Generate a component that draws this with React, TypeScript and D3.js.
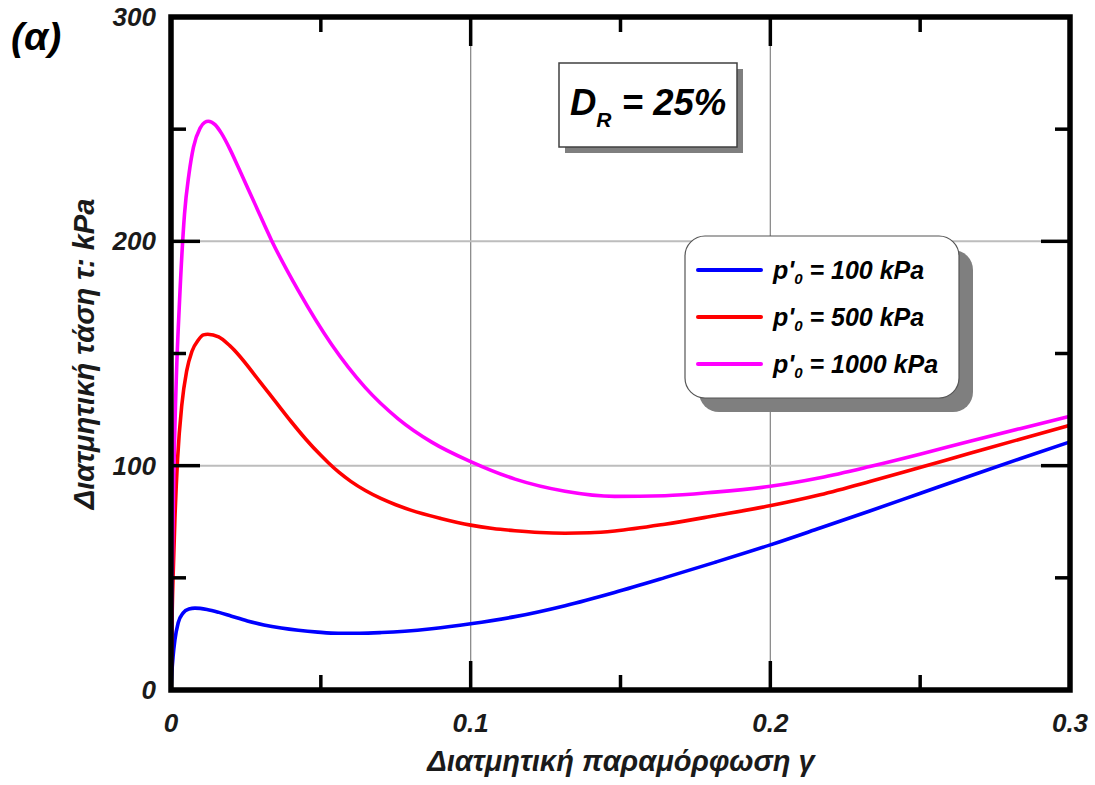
import React from 'react';
import * as d3 from 'd3';

const WIDTH = 1095;
const HEIGHT = 785;

// Axis domains and ticks
const xDomain = [0, 0.3];
const yDomain = [0, 300];
const xMajorTicks = [0, 0.1, 0.2, 0.3];
const xTickLabels = ['0', '0.1', '0.2', '0.3'];
const xMinorTicks = [0.05, 0.15, 0.25];
const yMajorTicks = [0, 100, 200, 300];
const yTickLabels = ['0', '100', '200', '300'];
const yMinorTicks = [50, 150, 250];
const xGridValues = [0.1, 0.2];
const yGridValues = [100, 200];

// Shear strain γ and shear stress τ (kPa) for each confining pressure
const strain100 = [0, 0.0003, 0.0007, 0.0013, 0.0024, 0.004, 0.006, 0.008, 0.012, 0.016, 0.0202, 0.0255, 0.031, 0.0368, 0.0425, 0.049, 0.0558, 0.063, 0.0703, 0.078, 0.087, 0.1, 0.1148, 0.1315, 0.148, 0.1648, 0.1815, 0.2, 0.2166, 0.2332, 0.2499, 0.2666, 0.2833, 0.3];
const stress100 = [0, 8, 15, 22.3, 30, 34.3, 36.1, 36.5, 35.9, 34.6, 32.9, 30.8, 29.0, 27.6, 26.6, 25.8, 25.3, 25.3, 25.6, 26.2, 27.3, 29.5, 32.7, 37.6, 43.5, 50.1, 56.9, 64.7, 72.2, 79.8, 87.6, 95.4, 103.1, 110.6];

const strain500 = [0, 0.0004, 0.0008, 0.0013, 0.0022, 0.0036, 0.0052, 0.007, 0.0091, 0.0108, 0.01225, 0.0159, 0.01969, 0.0297, 0.035, 0.04, 0.045, 0.05, 0.0525, 0.056, 0.06, 0.065, 0.07, 0.075, 0.08, 0.09, 0.1, 0.1074, 0.1148, 0.1231, 0.1315, 0.1398, 0.1481, 0.1648, 0.1815, 0.2002, 0.2166, 0.2332, 0.2499, 0.2666, 0.2833, 0.3];
const stress500 = [0, 35, 55, 76, 103, 127, 142, 151, 156, 158.3, 158.6, 157.4, 153.4, 137.4, 128.3, 119.8, 111.8, 104.6, 101.3, 97.1, 93.0, 88.8, 85.4, 82.6, 80.2, 76.5, 73.5, 72.0, 71.0, 70.2, 69.9, 70.1, 70.9, 73.9, 77.7, 82.2, 87.0, 92.9, 99.2, 105.5, 111.8, 118.0];

const strain1000 = [0, 0.0005, 0.001, 0.0018, 0.0028, 0.0045, 0.006, 0.0075, 0.0097, 0.0112, 0.01245, 0.0147, 0.0169, 0.0197, 0.0225, 0.028, 0.0336, 0.0425, 0.0536, 0.0647, 0.0758, 0.087, 0.1, 0.1148, 0.1315, 0.148, 0.1648, 0.1815, 0.2, 0.2166, 0.2332, 0.2499, 0.2666, 0.2833, 0.3];
const stress1000 = [0, 60, 100, 140, 172, 212, 230, 242, 250.5, 253, 253.5, 252.0, 248.0, 241.0, 232.9, 216.7, 200.3, 178.0, 154.0, 135.0, 120.9, 110.5, 101.8, 94.0, 88.6, 86.3, 86.6, 88.2, 90.8, 94.6, 99.6, 105.1, 110.9, 116.5, 122];

const pressureLabels = ['100', '500', '1000'];
const seriesColors = ['#0000ff', '#ff0000', '#ff00ff'];
const seriesStrains = [strain100, strain500, strain1000];
const seriesStresses = [stress100, stress500, stress1000];

const FONT = '"Liberation Sans", Arial, sans-serif';

export default function App() {
  const x = d3.scaleLinear().domain(xDomain).range([171, 1070]);
  const y = d3.scaleLinear().domain(yDomain).range([690, 17]);

  const line = d3
    .line<[number, number]>()
    .x((d) => x(d[0]))
    .y((d) => y(d[1]))
    .curve(d3.curveMonotoneX);

  const [x0, x1] = x.range();
  const [y0, y1] = y.range();
  const majorLen = 29;
  const minorLen = 15;
  const tickW = 3.5;

  const textStyle = {
    fontFamily: FONT,
    fontWeight: 'bold' as const,
    fontStyle: 'italic' as const,
  };

  // Legend geometry
  const lg = { x: 685, y: 236, w: 274, h: 162, r: 20, shadow: 14 };
  const legendRows = [270, 317, 364];

  return (
    <svg
      width={WIDTH}
      height={HEIGHT}
      style={{ position: 'absolute', left: 0, top: 0, background: '#fff' }}
    >
      <rect x={0} y={0} width={WIDTH} height={HEIGHT} fill="#fff" />

      {/* Grid */}
      {xGridValues.map((v) => (
        <line key={'gx' + v} x1={x(v)} x2={x(v)} y1={y1} y2={y0} stroke="#8c8c8c" strokeWidth={1.3} />
      ))}
      {yGridValues.map((v) => (
        <line key={'gy' + v} x1={x0} x2={x1} y1={y(v)} y2={y(v)} stroke="#bdbdbd" strokeWidth={2} />
      ))}

      {/* Curves */}
      {seriesStrains.map((strains, i) => (
        <path
          key={'s' + i}
          d={line(strains.map((g, j) => [g, seriesStresses[i][j]] as [number, number])) || ''}
          fill="none"
          stroke={seriesColors[i]}
          strokeWidth={3.6}
          strokeLinejoin="round"
          strokeLinecap="round"
        />
      ))}

      {/* Ticks on all four sides, pointing inward */}
      {xMajorTicks.slice(1, -1).map((v) => (
        <g key={'xt' + v}>
          <line x1={x(v)} x2={x(v)} y1={y0} y2={y0 - majorLen} stroke="#000" strokeWidth={tickW} />
          <line x1={x(v)} x2={x(v)} y1={y1} y2={y1 + majorLen} stroke="#000" strokeWidth={tickW} />
        </g>
      ))}
      {xMinorTicks.map((v) => (
        <g key={'xm' + v}>
          <line x1={x(v)} x2={x(v)} y1={y0} y2={y0 - minorLen} stroke="#000" strokeWidth={tickW} />
          <line x1={x(v)} x2={x(v)} y1={y1} y2={y1 + minorLen} stroke="#000" strokeWidth={tickW} />
        </g>
      ))}
      {yMajorTicks.slice(1, -1).map((v) => (
        <g key={'yt' + v}>
          <line x1={x0} x2={x0 + majorLen} y1={y(v)} y2={y(v)} stroke="#000" strokeWidth={tickW} />
          <line x1={x1} x2={x1 - majorLen} y1={y(v)} y2={y(v)} stroke="#000" strokeWidth={tickW} />
        </g>
      ))}
      {yMinorTicks.map((v) => (
        <g key={'ym' + v}>
          <line x1={x0} x2={x0 + minorLen} y1={y(v)} y2={y(v)} stroke="#000" strokeWidth={tickW} />
          <line x1={x1} x2={x1 - minorLen} y1={y(v)} y2={y(v)} stroke="#000" strokeWidth={tickW} />
        </g>
      ))}

      {/* Frame */}
      <rect x={x0} y={y1} width={x1 - x0} height={y0 - y1} fill="none" stroke="#000" strokeWidth={5.5} />

      {/* Tick labels */}
      {xMajorTicks.map((v, i) => (
        <text key={'xl' + v} x={x(v)} y={732} textAnchor="middle" fontSize={26} {...textStyle} fill="#1a1a1a">
          {xTickLabels[i]}
        </text>
      ))}
      {yMajorTicks.map((v, i) => (
        <text key={'yl' + v} x={156} y={y(v) + 9} textAnchor="end" fontSize={26} {...textStyle} fill="#1a1a1a">
          {yTickLabels[i]}
        </text>
      ))}

      {/* Axis titles */}
      <text x={621} y={771} textAnchor="middle" fontSize={29} {...textStyle} fill="#1a1a1a">
        Διατμητική παραμόρφωση γ
      </text>
      <text
        transform="translate(94,354) rotate(-90)"
        textAnchor="middle"
        fontSize={29}
        {...textStyle}
        fill="#1a1a1a"
      >
        Διατμητική τάση τ: kPa
      </text>

      {/* Panel label */}
      <text x={11} y={50} fontSize={39} {...textStyle} fill="#000">
        (α)
      </text>

      {/* Relative density box */}
      <rect x={565} y={69} width={178} height={84} fill="#7f7f7f" />
      <rect x={559} y={63} width={178} height={84} fill="#fff" stroke="#404040" strokeWidth={1.5} />
      <text x={570} y={115} fontSize={36.5} {...textStyle} fill="#000">
        D
        <tspan fontSize={21} dy={12}>R</tspan>
        <tspan dy={-12}> = 25%</tspan>
      </text>

      {/* Legend */}
      <rect
        x={lg.x + lg.shadow}
        y={lg.y + lg.shadow}
        width={lg.w}
        height={lg.h}
        rx={lg.r}
        fill="#7f7f7f"
      />
      <rect x={lg.x} y={lg.y} width={lg.w} height={lg.h} rx={lg.r} fill="#fff" stroke="#555" strokeWidth={1.2} />
      {pressureLabels.map((p, i) => (
        <g key={'lg' + p}>
          <line
            x1={698}
            x2={761}
            y1={legendRows[i]}
            y2={legendRows[i]}
            stroke={seriesColors[i]}
            strokeWidth={4}
            strokeLinecap="round"
          />
          <text x={773} y={legendRows[i] + 8.5} fontSize={25} {...textStyle} fill="#000">
            p'
            <tspan fontSize={15} dy={5}>0</tspan>
            <tspan dy={-5}>{` = ${p} kPa`}</tspan>
          </text>
        </g>
      ))}
    </svg>
  );
}
